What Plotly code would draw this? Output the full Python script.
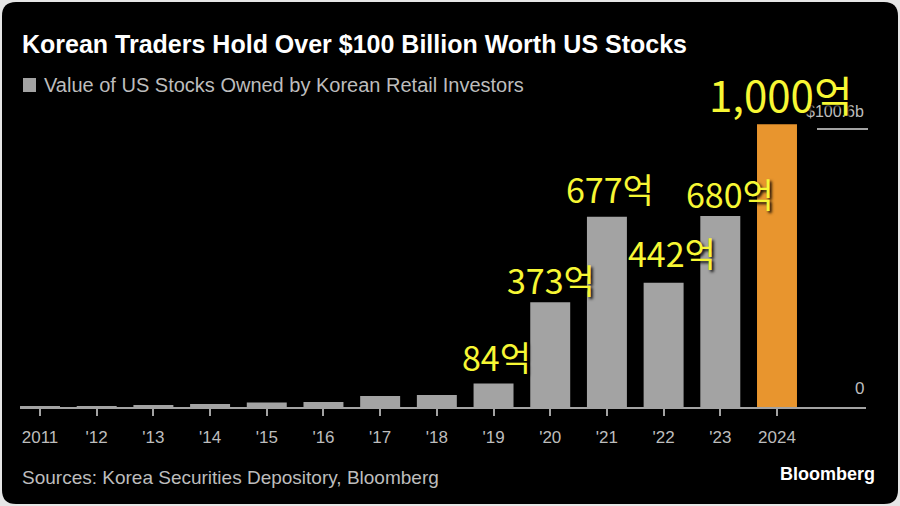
import plotly.graph_objects as go

years = ["2011", "'12", "'13", "'14", "'15", "'16", "'17", "'18", "'19", "'20", "'21", "'22", "'23", "2024"]
values = [0.2, 0.3, 0.6, 1.1, 1.6, 1.8, 3.9, 4.3, 8.4, 37.3, 67.7, 44.2, 68.0, 100.6]
bar_colors = ["#a3a3a3"] * 13 + ["#e8952e"]
kr_labels = ["84억", "373억", "677억", "442억", "680억", "1,000억"]
kr_index = [8, 9, 10, 11, 12, 13]
kr_dx = [3, 1, 3, 8, 10, 4]
kr_dy = [0, -4, 2, 4, -4, -2]
kr_size = [34, 34, 34, 34, 34, 42]

W, H = 900, 506
L, R, T, B = 20, 34, 98, 99
PW, PH = W - L - R, H - T - B
def fx(px):
    return (px - L) / PW
def fy(py):
    return (H - B - py) / PH

xs = list(range(len(years)))
fig = go.Figure()
fig.add_trace(go.Bar(x=xs, y=values, marker=dict(color=bar_colors, line=dict(width=0)),
                     width=0.705, hoverinfo="skip"))

ann = []
ann.append(dict(text="<b>Korean Traders Hold Over $100 Billion Worth US Stocks</b>", x=fx(20), y=fy(44),
                xanchor="left", yanchor="middle", font=dict(family="Liberation Sans", size=25, color="#ffffff")))
ann.append(dict(text="Value of US Stocks Owned by Korean Retail Investors", x=fx(42), y=fy(85),
                xanchor="left", yanchor="middle", font=dict(family="Liberation Sans", size=20, color="#bdbdbd")))
ann.append(dict(text="Sources: Korea Securities Depository, Bloomberg", x=fx(20), y=fy(477),
                xanchor="left", yanchor="middle", font=dict(family="Liberation Sans", size=19, color="#bdbdbd")))
ann.append(dict(text="<b>Bloomberg</b>", x=fx(877), y=fy(474),
                xanchor="right", yanchor="middle", font=dict(family="Liberation Sans", size=18, color="#ffffff")))
ann.append(dict(text="0", x=fx(866), y=fy(388),
                xanchor="right", yanchor="middle", font=dict(family="Liberation Sans", size=17, color="#bdbdbd")))
ann.append(dict(text="$100.6b", x=fx(866), y=fy(111),
                xanchor="right", yanchor="middle", font=dict(family="Liberation Sans", size=16, color="#bdbdbd")))
for t, i, dx, dy, s in zip(kr_labels, kr_index, kr_dx, kr_dy, kr_size):
    ann.append(dict(text=t, x=i, y=values[i], xref="x", yref="y", xanchor="center", yanchor="bottom",
                    xshift=dx, yshift=dy,
                    font=dict(family="Noto Sans CJK KR", size=s, color="#f7f734", shadow="2px 2px 3px #000")))
for a in ann:
    a.setdefault("xref", "paper")
    a.setdefault("yref", "paper")
    a["showarrow"] = False

shapes = [
    dict(type="path", xref="paper", yref="paper",
         path=f"M {fx(16)},{fy(2)} L {fx(884)},{fy(2)} Q {fx(898)},{fy(2)} {fx(898)},{fy(16)} "
              f"L {fx(898)},{fy(490)} Q {fx(898)},{fy(504)} {fx(884)},{fy(504)} "
              f"L {fx(16)},{fy(504)} Q {fx(2)},{fy(504)} {fx(2)},{fy(490)} "
              f"L {fx(2)},{fy(16)} Q {fx(2)},{fy(2)} {fx(16)},{fy(2)} Z",
         fillcolor="#000000", line=dict(width=0), layer="below"),
    dict(type="rect", xref="paper", yref="paper", x0=fx(23), x1=fx(36), y0=fy(92), y1=fy(78),
         fillcolor="#a3a3a3", line=dict(width=0)),
    dict(type="line", xref="paper", yref="paper", x0=fx(817), x1=fx(868), y0=fy(129), y1=fy(129),
         line=dict(color="#a3a3a3", width=2)),
]

fig.update_layout(
    width=W, height=H, margin=dict(l=L, r=R, t=T, b=B),
    paper_bgcolor="#e6e6e6", plot_bgcolor="rgba(0,0,0,0)",
    showlegend=False, annotations=ann, shapes=shapes,
    xaxis=dict(range=[-0.353, 14.57], tickmode="array", tickvals=xs, ticktext=years,
               showgrid=False, zeroline=False, showline=True, linecolor="#a3a3a3", linewidth=2,
               ticks="outside", ticklen=7, tickwidth=2, tickcolor="#a3a3a3",
               tickfont=dict(family="Liberation Sans", size=17, color="#bdbdbd"), ticklabelstandoff=7),
    yaxis=dict(range=[0, PH / 2.81], visible=False, fixedrange=True),
)
fig.write_html("out.html")
